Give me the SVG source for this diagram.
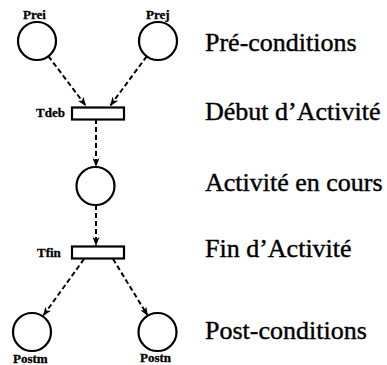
<svg xmlns="http://www.w3.org/2000/svg" width="387" height="365" viewBox="0 0 387 365">
  <style>
    .place { fill: #ffffff; stroke: #000000; stroke-width: 2.2; }
    .trans { fill: #ffffff; stroke: #000000; stroke-width: 2.2; }
    .arc { fill: none; stroke: #000000; stroke-width: 2; stroke-dasharray: 5 3; }
    .lbl { font-family: "Liberation Serif", "Times New Roman", serif; font-weight: bold; font-size: 13px; fill: #000000; stroke: #000000; stroke-width: 0.3; }
    .note { font-family: "Liberation Serif", "Times New Roman", serif; font-size: 26px; fill: #000000; stroke: #000000; stroke-width: 0.4; }
  </style>
  <defs>
    <marker id="head" viewBox="0 0 9 7" refX="9" refY="3.5" markerWidth="9" markerHeight="7" markerUnits="userSpaceOnUse" orient="auto">
      <path d="M0,0 L9,3.5 L0,7 L2.5,3.5 z" fill="#000000"/>
    </marker>
  </defs>

  <!-- arcs of the net -->
  <g id="connectors">
    <line class="arc" x1="48.4" y1="56.2" x2="86" y2="106" marker-end="url(#head)"/>
    <line class="arc" x1="146.7" y1="56.3" x2="110" y2="106" marker-end="url(#head)"/>
    <line class="arc" x1="96" y1="119" x2="96" y2="167" marker-end="url(#head)"/>
    <line class="arc" x1="96" y1="205" x2="96" y2="246" marker-end="url(#head)"/>
    <line class="arc" x1="84" y1="259" x2="43" y2="316" marker-end="url(#head)"/>
    <line class="arc" x1="113" y1="259" x2="148" y2="316" marker-end="url(#head)"/>
  </g>

  <!-- places and transitions -->
  <g id="prei">
    <circle class="place" cx="37" cy="41" r="19"/>
    <text class="lbl" x="23" y="19">Prei</text>
  </g>
  <g id="prej">
    <circle class="place" cx="158" cy="41" r="19"/>
    <text class="lbl" x="146" y="19">Prej</text>
  </g>
  <g id="tdeb">
    <rect class="trans" x="72" y="107.5" width="52" height="12"/>
    <text class="lbl" x="36" y="117">Tdeb</text>
  </g>
  <g id="activite">
    <circle class="place" cx="95.5" cy="186" r="19"/>
  </g>
  <g id="tfin">
    <rect class="trans" x="72" y="246.5" width="52" height="12"/>
    <text class="lbl" x="37" y="257">Tfin</text>
  </g>
  <g id="postm">
    <circle class="place" cx="32" cy="332" r="19"/>
    <text class="lbl" x="13" y="363">Postm</text>
  </g>
  <g id="postn">
    <circle class="place" cx="157.5" cy="332" r="19"/>
    <text class="lbl" x="140" y="362">Postn</text>
  </g>

  <!-- legend -->
  <g id="legend">
    <text class="note" x="205" y="51">Pré-conditions</text>
    <text class="note" x="205" y="120">Début d’Activité</text>
    <text class="note" x="205" y="191">Activité en cours</text>
    <text class="note" x="205" y="257">Fin d’Activité</text>
    <text class="note" x="205" y="339">Post-conditions</text>
  </g>
</svg>
